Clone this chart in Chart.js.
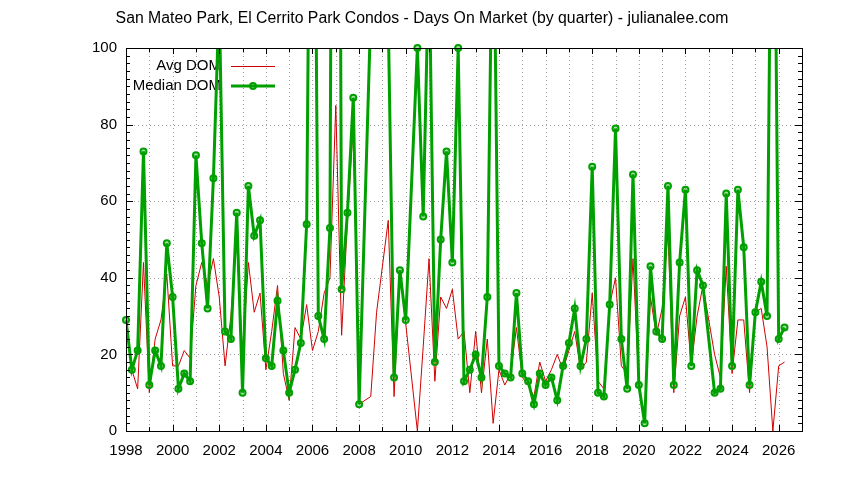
<!DOCTYPE html>
<html>
<head>
<meta charset="utf-8">
<script src="https://cdn.jsdelivr.net/npm/chart.js@4.4.1/dist/chart.umd.min.js"></script>
<style>
  body { margin: 0; background: #fff; }
  canvas { display: block; }
</style>
</head>
<body>
<canvas id="dom_chart" width="844" height="480"></canvas>
<script>
'use strict';

// quarterly series, first quarter = 1998 Q1, null = no sales that quarter
const start_year = 1998;
const avg_dom = [
    29, 16, 11, 44, 10, 24, 29, 41, 17, 17,
    21, 19, 38, 44, 38, 45, 35, 17, 30, 50,
    20, 44, 31, 36, 16, 26, 38, 15, 8, 27,
    24, 33, 21, 26, 36, 40, 85, 25, 55, 80,
    7, null, 9, 31, 43, 55, 9, 42, 28, null,
    0, 22, 45, 13, 35, 32, 37, 24, 26, 10,
    26, 10, 24, 2, 16, 12, 15, 27, 14, 12,
    9, 18, 13, 16, 20, 16, 21, 26, 16, 18,
    36, 13, 11, 33, 40, 17, 15, 45, 12, 3,
    35, 25, 32, 52, 10, 30, 35, 17, 30, 38,
    null, 20, 14, 43, 15, 29, 29, 10, 31, 32,
    22, 0, 17, 18
];
const median_dom = [
    29, 16, 21, 73, 12, 21, 17, 49, 35, 11,
    15, 13, 72, 49, 32, 66, 113, 26, 24, 57,
    10, 64, 51, 55, 19, 17, 34, 21, 10, 16,
    23, 54, 235, 30, 24, 53, 430, 37, 57, 87,
    7, null, 109, 140, 120, 108, 14, 42, 29, null,
    100, 56, 125, 18, 50, 73, 44, 100, 13, 16,
    20, 14, 35, 150, 17, 15, 14, 36, 15, 13,
    7, 15, 12, 14, 8, 17, 23, 32, 17, 24,
    69, 10, 9, 33, 79, 24, 11, 67, 12, 2,
    43, 26, 24, 64, 12, 44, 63, 17, 42, 38,
    null, 10, 11, 62, 17, 63, 48, 12, 31, 39,
    30, 195, 24, 27
];
const x_min = 1998;
const x_max = 2027;
const y_max = 100;

const title_text = 'San Mateo Park, El Cerrito Park Condos - Days On Market (by quarter) - julianalee.com';
const font_name = '"Liberation Sans", Arial, sans-serif';
const red = '#d00000';
const green = '#00a000';

const to_points = (arr) => arr.map((v, i) => ({ x: start_year + i / 4, y: v }));
const median_marks = median_dom.map((v) => (v !== null && v <= y_max ? v : null));

// gnuplot style frame, dotted grid, inward ticks, key and title
const gnuplot_look = {
    id: 'gnuplot_look',
    beforeDatasetsDraw(chart) {
        const ctx = chart.ctx;
        const area = chart.chartArea;
        const xs = chart.scales.x;
        const ys = chart.scales.y;
        ctx.save();
        ctx.strokeStyle = '#a0a0a0';
        ctx.lineWidth = 1;
        ctx.setLineDash([1, 3]);
        ctx.beginPath();
        for (let yr = x_min + 1; yr < x_max; yr++) {
            const px = Math.round(xs.getPixelForValue(yr)) + 0.5;
            ctx.moveTo(px, area.top);
            ctx.lineTo(px, area.bottom);
        }
        for (let v = 20; v < y_max; v += 20) {
            const py = Math.round(ys.getPixelForValue(v)) + 0.5;
            ctx.moveTo(area.left, py);
            ctx.lineTo(area.right, py);
        }
        ctx.stroke();
        ctx.setLineDash([]);

        // key
        ctx.font = '15px ' + font_name;
        ctx.fillStyle = '#000';
        ctx.textAlign = 'right';
        ctx.textBaseline = 'middle';
        ctx.fillText('Avg DOM', 221, 66);
        ctx.fillText('Median DOM', 221, 86);
        ctx.strokeStyle = red;
        ctx.lineWidth = 1;
        ctx.beginPath();
        ctx.moveTo(231, 66.5);
        ctx.lineTo(275, 66.5);
        ctx.stroke();
        ctx.strokeStyle = green;
        ctx.lineWidth = 3;
        ctx.beginPath();
        ctx.moveTo(231, 86);
        ctx.lineTo(275, 86);
        ctx.stroke();
        ctx.lineWidth = 2;
        ctx.fillStyle = 'rgba(0,160,0,0.35)';
        ctx.beginPath();
        ctx.arc(253, 86, 3, 0, Math.PI * 2);
        ctx.fill();
        ctx.stroke();
        ctx.restore();
    },
    afterDraw(chart) {
        const ctx = chart.ctx;
        const area = chart.chartArea;
        const xs = chart.scales.x;
        const ys = chart.scales.y;
        ctx.save();
        ctx.strokeStyle = '#000';
        ctx.lineWidth = 1;
        ctx.beginPath();
        for (let yr = x_min; yr <= x_max; yr++) {
            const px = Math.round(xs.getPixelForValue(yr)) + 0.5;
            const len = yr % 2 === 0 ? 6 : 4;
            ctx.moveTo(px, area.bottom);
            ctx.lineTo(px, area.bottom - len);
            ctx.moveTo(px, area.top);
            ctx.lineTo(px, area.top + len);
        }
        for (let v = 0; v <= y_max; v += 2) {
            const py = Math.round(ys.getPixelForValue(v)) + 0.5;
            const len = v % 20 === 0 ? 7 : 4;
            ctx.moveTo(area.left, py);
            ctx.lineTo(area.left + len, py);
            ctx.moveTo(area.right, py);
            ctx.lineTo(area.right - len, py);
        }
        ctx.stroke();
        ctx.strokeRect(Math.round(area.left) + 0.5, Math.round(area.top) + 0.5,
            Math.round(area.right - area.left), Math.round(area.bottom - area.top));

        ctx.font = '15.8px ' + font_name;
        ctx.fillStyle = '#000';
        ctx.textAlign = 'center';
        ctx.textBaseline = 'middle';
        ctx.fillText(title_text, 422, 19);
        ctx.restore();
    }
};

new Chart(document.getElementById('dom_chart'), {
    type: 'line',
    data: {
        datasets: [{
            label: 'Median DOM',
            data: to_points(median_marks),
            showLine: false,
            pointRadius: 3,
            pointBorderWidth: 2,
            pointBorderColor: green,
            pointBackgroundColor: 'rgba(0,160,0,0.35)',
            clip: false,
            order: 0,
        }, {
            label: 'Median DOM line',
            data: to_points(median_dom),
            borderColor: green,
            borderWidth: 3,
            pointRadius: 0,
            spanGaps: true,
            tension: 0,
            clip: 0,
            order: 1,
        }, {
            label: 'Avg DOM',
            data: to_points(avg_dom),
            borderColor: red,
            borderWidth: 1,
            pointRadius: 0,
            spanGaps: true,
            tension: 0,
            clip: 1,
            order: 2,
        }]
    },
    options: {
        responsive: false,
        animation: false,
        layout: { padding: { top: 48, right: 42, left: 0, bottom: 0 } },
        plugins: { legend: { display: false }, tooltip: { enabled: false } },
        scales: {
            x: {
                type: 'linear',
                min: x_min,
                max: x_max,
                grid: { display: false, drawTicks: false },
                border: { display: false },
                ticks: {
                    stepSize: 1,
                    autoSkip: false,
                    maxRotation: 0,
                    padding: 11,
                    color: '#000',
                    font: { family: font_name, size: 15 },
                    callback: (v) => (v % 2 === 0 ? String(v) : ''),
                },
                afterFit: (s) => { s.height = 49; },
            },
            y: {
                min: 0,
                max: y_max,
                grid: { display: false, drawTicks: false },
                border: { display: false },
                ticks: {
                    stepSize: 20,
                    padding: 9,
                    color: '#000',
                    font: { family: font_name, size: 15 },
                },
                afterFit: (s) => { s.width = 126; },
            }
        }
    },
    plugins: [gnuplot_look]
});
</script>
</body>
</html>
